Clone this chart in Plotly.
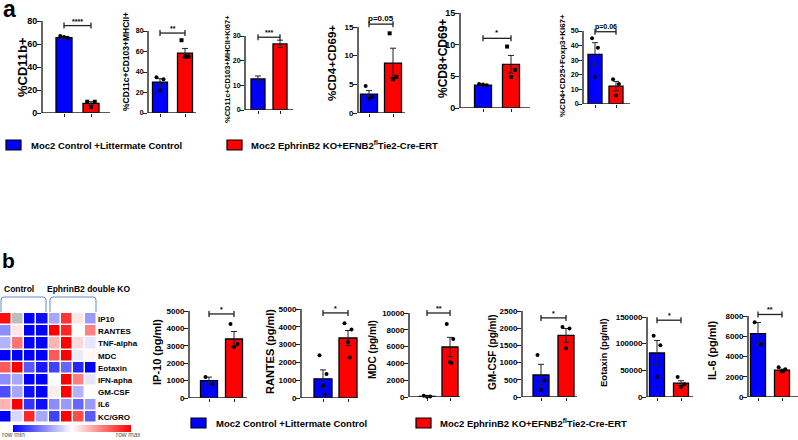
import plotly.graph_objects as go

W, H = 798, 440
FONT = "Liberation Sans, Arial, sans-serif"
BLUE = "#0000FF"
RED = "#FF0000"

# ---------------- data: panel a ----------------
top_titles = ["%CD11b+", "%CD11c+CD103+MHCII+", "%CD11c+CD103+MHCII+Ki67+",
              "%CD4+CD69+", "%CD8+CD69+", "%CD4+CD25+Foxp3+Ki67+"]
top_ctrl_mean = [65.5, 30, 12.6, 3.3, 3.6, 34]
top_ko_mean = [8.3, 58.5, 26.8, 8.7, 6.9, 12.3]
top_ctrl_sem = [0.8, 3.5, 1.2, 0.6, 0.15, 8]
top_ko_sem = [1.5, 4.5, 1.5, 2.6, 1.4, 3.2]
top_ctrl_pts = [[67, 65.5, 66], [35, 33, 22], [], [4.7, 2.8, 2.5], [3.8, 3.6, 3.7], [45, 38.5, 18.5]]
top_ko_pts = [[9.8, 9.8, 5.2], [71, 55, 55, 55], [], [13.9, 6.3, 5.9], [9.7, 6.0, 4.9], [17, 13.7, 5.8]]
top_sig = ["****", "**", "***", "p=0.05", "*", "p=0.06"]
top_sig_y = [76, 78, 29.5, 15.5, 11, 49.5]
top_ymax = [80, 80, 30, 15, 15, 50]
top_dtick = [20, 20, 10, 5, 5, 10]

# ---------------- data: panel b ----------------
bot_titles = ["IP-10 (pg/ml)", "RANTES (pg/ml)", "MDC (pg/ml)",
              "GM-CSF (pg/ml)", "Eotaxin (pg/ml)", "IL-6 (pg/ml)"]
bot_ctrl_mean = [1000, 1080, 80, 640, 82500, 6250]
bot_ko_mean = [3390, 3370, 5950, 1790, 26000, 2650]
bot_ctrl_sem = [200, 500, 40, 310, 23500, 1100]
bot_ko_sem = [430, 420, 1150, 200, 4500, 100]
bot_ctrl_pts = [[1200, 800], [2400, 1350, 700, 200], [150, 60, 30], [1220, 490, 200],
                [115000, 97000, 37500], [7380, 5190]]
bot_ko_pts = [[4250, 3100, 2930], [4200, 3850, 3150, 2280], [8690, 6900, 4170, 4050],
              [2035, 1990, 1420], [37500, 23750, 18750], [2940, 2740, 2510, 2600]]
bot_sig = ["*", "*", "**", "*", "*", "**"]
bot_sig_y = [4830, 4780, 10000, 2300, 144000, 8150]
bot_ymax = [5000, 5000, 10000, 2500, 150000, 8000]
bot_dtick = [1000, 1000, 2000, 500, 50000, 2000]

# heatmap (row-scaled values, -1 = row min, 1 = row max, None = missing)
heat_rows = ["IP10", "RANTES", "TNF-alpha", "MDC", "Eotaxin", "IFN-apha", "GM-CSF", "IL6", "KC/GRO"]
heat_vals = [
    [0.95, None, -1, -0.95, -0.35, 0.8, 0.1, -0.4],
    [-0.45, 0.1, -1, -1, 1, 0.85, 0, 0.5],
    [-0.3, 0.55, -1, -1, 0.3, 1, 0.15, -0.1],
    [-1, -1, -1, -1, 0.65, 1, -0.08, 0.03],
    [0.65, 1, -0.65, -0.9, -0.75, -0.6, -0.85, -1],
    [-0.45, -0.35, -1, -1, 0, 1, 0.5, -0.1],
    [-0.7, -0.35, -0.95, -1, 0.07, 1, -0.3, 0],
    [0.3, 1, -0.8, -0.95, -0.45, -0.4, -0.6, -0.4],
    [-1, -0.15, 0.85, -0.35, -0.75, 1, 0.7, -0.65],
]
legend_labels = ["Moc2 Control +Littermate Control",
                 "Moc2 EphrinB2 KO+EFNB2<sup>fl</sup>Tie2-Cre-ERT"]

# ---------------- layout specs (pixels) ----------------
# (y-axis x, x-axis end, ctrl centre, ko centre, zero y, top-tick y)
top_geo = [(42, 110, 64, 91, 113, 21), (148, 196, 160, 185, 113, 31),
           (245, 293, 258, 280, 110, 36), (358, 405, 369, 393, 113, 27),
           (460, 530, 483, 511, 108, 13), (583, 630, 595, 616, 104, 31)]
top_barw = [16, 15, 14, 17, 17, 14]
top_title_x = [22, 126, 227, 332, 443, 562]
top_title_yc = [67, 62, 69, 63, 59, 66]
top_title_size = [13, 8.5, 7.5, 11.5, 12, 8]
top_tick_size = [9, 7, 7, 8, 9, 7]
top_sig_size = [7, 7, 7, 8, 8, 7]
top_ko_symbol = ["square", "square", "square", "square", "square", "circle"]

bot_geo = [(189, 247, 209, 234, 398, 311), (301, 358, 323, 348, 398, 309),
           (409, 460, 427, 450, 397, 313), (522, 577, 541, 566, 397, 311),
           (647, 693, 657, 681, 397, 317), (748, 798, 758, 782, 397, 316)]
bot_barw = [17, 18, 16, 16, 15, 15]
bot_title_x = [157, 270, 372, 492, 603, 712]
bot_title_yc = [352, 352, 350, 352, 353, 350]
bot_title_size = [11, 11, 10, 10, 9.5, 11]
bot_tick_size = [8, 8, 8, 8, 8, 8]


def fx(px):
    return px / W


def fy(py):
    return 1 - py / H


def jitter(n):
    pat = [-0.14, 0.14, 0.0, 0.07, -0.07]
    return pat[:n]


fig = go.Figure()
layout = {}
shapes = []
annotations = []


def add_panel(k, geo, barw, ctrl_m, ko_m, ctrl_s, ko_s, ctrl_p, ko_p, sig, sig_y,
              ymax, dtick, title, tx, tyc, tsize, ticksize, sigsize, ko_sym):
    ax, end, c0, c1, zero, tickpx = geo
    ux = c1 - c0
    xr = [(ax - c0) / ux, 1 + (end - c1) / ux]
    ppu = (zero - tickpx) / ymax
    top_px = max(1, tickpx - 14)
    yr_top = (zero - top_px) / ppu
    xa = "x" if k == 1 else f"x{k}"
    ya = "y" if k == 1 else f"y{k}"
    xname = "xaxis" if k == 1 else f"xaxis{k}"
    yname = "yaxis" if k == 1 else f"yaxis{k}"
    layout[xname] = dict(domain=[fx(ax), fx(end)], range=xr, anchor=ya,
                         showgrid=False, zeroline=False, showline=False,
                         tickvals=[0, 1], showticklabels=False, ticks="outside",
                         ticklen=3, tickwidth=1, tickcolor="#222")
    layout[yname] = dict(domain=[fy(zero), fy(top_px)], range=[0, yr_top], anchor=xa,
                         showgrid=False, zeroline=False, showline=False,
                         tickvals=list(range(0, ymax + 1, dtick)), tickformat="d",
                         ticks="outside", ticklen=4, tickwidth=1.3, tickcolor="#222",
                         ticklabelstandoff=-2,
                         tickfont=dict(family=FONT, size=ticksize, color="black", weight="bold"))
    bw = barw / ux
    for xi, m, s, col in [(0, ctrl_m, ctrl_s, BLUE), (1, ko_m, ko_s, RED)]:
        fig.add_trace(go.Bar(x=[xi], y=[m], width=bw, xaxis=xa, yaxis=ya,
                             marker=dict(color=col, line=dict(color="black", width=1.3)),
                             error_y=dict(type="data", array=[s], color="#222",
                                          thickness=1, width=3),
                             showlegend=False, hoverinfo="skip"))
    for xi, pts, sym in [(0, ctrl_p, "circle"), (1, ko_p, ko_sym)]:
        if pts:
            js = jitter(len(pts))
            fig.add_trace(go.Scatter(x=[xi + j for j in js], y=pts, mode="markers",
                                     xaxis=xa, yaxis=ya, cliponaxis=False,
                                     marker=dict(color="black", size=4, symbol=sym),
                                     showlegend=False, hoverinfo="skip"))
    # axis lines
    shapes.append(dict(type="line", xref=f"{xa} domain", yref=ya, x0=0, x1=0, y0=0, y1=ymax,
                       line=dict(color="#222", width=1.4)))
    shapes.append(dict(type="line", xref=f"{xa} domain", yref=ya, x0=0, x1=1, y0=0, y1=0,
                       line=dict(color="#222", width=1.4)))
    # significance bracket
    shapes.append(dict(type="line", xref=xa, yref=ya, x0=0, x1=1, y0=sig_y, y1=sig_y,
                       line=dict(color="#222", width=1.3)))
    for xe in (0, 1):
        shapes.append(dict(type="line", xref=xa, yref=ya, ysizemode="pixel", yanchor=sig_y,
                           x0=xe, x1=xe, y0=-3, y1=3, line=dict(color="#222", width=1.3)))
    annotations.append(dict(xref=xa, yref=ya, x=0.5, y=sig_y, text=sig, showarrow=False,
                            yanchor="bottom", yshift=-1,
                            font=dict(family=FONT, size=sigsize, color="black", weight="bold")))
    annotations.append(dict(xref="paper", yref="paper", x=fx(tx), y=fy(tyc), text=title,
                            textangle=-90, showarrow=False, xanchor="center", yanchor="middle",
                            font=dict(family=FONT, size=tsize, color="black", weight="bold")))


for i in range(6):
    add_panel(i + 1, top_geo[i], top_barw[i], top_ctrl_mean[i], top_ko_mean[i],
              top_ctrl_sem[i], top_ko_sem[i], top_ctrl_pts[i], top_ko_pts[i],
              top_sig[i], top_sig_y[i], top_ymax[i], top_dtick[i], top_titles[i],
              top_title_x[i], top_title_yc[i], top_title_size[i], top_tick_size[i],
              top_sig_size[i], top_ko_symbol[i])
for i in range(6):
    add_panel(i + 7, bot_geo[i], bot_barw[i], bot_ctrl_mean[i], bot_ko_mean[i],
              bot_ctrl_sem[i], bot_ko_sem[i], bot_ctrl_pts[i], bot_ko_pts[i],
              bot_sig[i], bot_sig_y[i], bot_ymax[i], bot_dtick[i], bot_titles[i],
              bot_title_x[i], bot_title_yc[i], bot_title_size[i], bot_tick_size[i],
              7, "circle")

# ---------------- heatmap ----------------
cs = [[0, "#0000FF"], [0.5, "#FFFFFF"], [1, "#FF0000"]]
ncol = len(heat_vals[0])
fig.add_trace(go.Heatmap(z=heat_vals, x=list(range(ncol)), y=list(range(len(heat_rows))),
                         colorscale=cs, zmin=-1, zmax=1, xgap=1.5, ygap=1.5,
                         xaxis="x13", yaxis="y13", hoverinfo="skip",
                         colorbar=dict(orientation="h", x=fx(72), xanchor="center",
                                       y=fy(432), yanchor="bottom", len=118 / W,
                                       lenmode="fraction", thickness=7, thicknessmode="pixels",
                                       showticklabels=False, ticks="", outlinewidth=0,
                                       xpad=0, ypad=0)))
grey = [[(0 if v is None else None) for v in row] for row in heat_vals]
fig.add_trace(go.Heatmap(z=grey, x=list(range(ncol)), y=list(range(len(heat_rows))),
                         colorscale=[[0, "#BDBDBD"], [1, "#BDBDBD"]], showscale=False,
                         xgap=1.5, ygap=1.5, xaxis="x13", yaxis="y13", hoverinfo="skip"))
layout["xaxis13"] = dict(domain=[0, fx(97)], range=[-0.5, ncol - 0.5], anchor="y13",
                         showgrid=False, zeroline=False, showticklabels=False, ticks="")
layout["yaxis13"] = dict(domain=[fy(423), fy(313)], range=[len(heat_rows) - 0.5, -0.5],
                         anchor="x13", side="right", showgrid=False, zeroline=False,
                         tickvals=list(range(len(heat_rows))), ticktext=heat_rows, ticks="",
                         tickfont=dict(family=FONT, size=8, color="black", weight="bold"))

# brackets above heatmap groups
BR = "#5A8AD6"
for x0, x1 in [(1, 46), (50, 96)]:
    a0, a1 = fx(x0), fx(x1)
    yt, yb = fy(297), fy(312)
    r = fx(3)
    rv = 3 / H
    path = (f"M {a0},{yb} L {a0},{yt - rv} Q {a0},{yt} {a0 + r},{yt} "
            f"L {a1 - r},{yt} Q {a1},{yt} {a1},{yt - rv} L {a1},{yb}")
    shapes.append(dict(type="path", xref="paper", yref="paper", path=path,
                       line=dict(color=BR, width=1)))
annotations.append(dict(xref="paper", yref="paper", x=fx(2), y=fy(289), text="Control",
                        showarrow=False, xanchor="left", yanchor="middle",
                        font=dict(family=FONT, size=8.5, color="black", weight="bold")))
annotations.append(dict(xref="paper", yref="paper", x=fx(45), y=fy(289),
                        text="EphrinB2 double KO", showarrow=False, xanchor="left",
                        yanchor="middle",
                        font=dict(family=FONT, size=8.5, color="black", weight="bold")))
annotations.append(dict(xref="paper", yref="paper", x=fx(0), y=fy(440), text="row min",
                        showarrow=False, xanchor="left", yanchor="bottom",
                        font=dict(family=FONT, size=6.5, color="#555")))
annotations.append(dict(xref="paper", yref="paper", x=fx(143), y=fy(440), text="row max",
                        showarrow=False, xanchor="right", yanchor="bottom",
                        font=dict(family=FONT, size=6.5, color="#555")))

# panel letters
annotations.append(dict(xref="paper", yref="paper", x=fx(1), y=fy(9), text="a",
                        showarrow=False, xanchor="left", yanchor="middle",
                        font=dict(family=FONT, size=23, color="black", weight="bold")))
annotations.append(dict(xref="paper", yref="paper", x=fx(0), y=fy(260), text="b",
                        showarrow=False, xanchor="left", yanchor="middle",
                        font=dict(family=FONT, size=21, color="black", weight="bold")))

# legends (boxes + text)
for (bx, tx, yc, lab, col) in [(6, 29, 145, legend_labels[0], BLUE),
                               (227, 249, 145, legend_labels[1], RED),
                               (191, 214, 423, legend_labels[0], BLUE),
                               (416, 438, 423, legend_labels[1], RED)]:
    shapes.append(dict(type="rect", xref="paper", yref="paper", x0=fx(bx), x1=fx(bx + 15),
                       y0=fy(yc + 5), y1=fy(yc - 5), fillcolor=col,
                       line=dict(color="black", width=1.2)))
    annotations.append(dict(xref="paper", yref="paper", x=fx(tx), y=fy(yc), text=lab,
                            showarrow=False, xanchor="left", yanchor="middle",
                            font=dict(family=FONT, size=9.5, color="black", weight="bold")))

fig.update_layout(width=W, height=H, margin=dict(l=0, r=0, t=0, b=0, autoexpand=False),
                  paper_bgcolor="white", plot_bgcolor="rgba(0,0,0,0)",
                  barmode="overlay", showlegend=False, shapes=shapes,
                  annotations=annotations, **layout)
fig.write_html("out.html", config={"displayModeBar": False},
               post_script="document.body.style.margin='0px';document.body.style.padding='0px';")
